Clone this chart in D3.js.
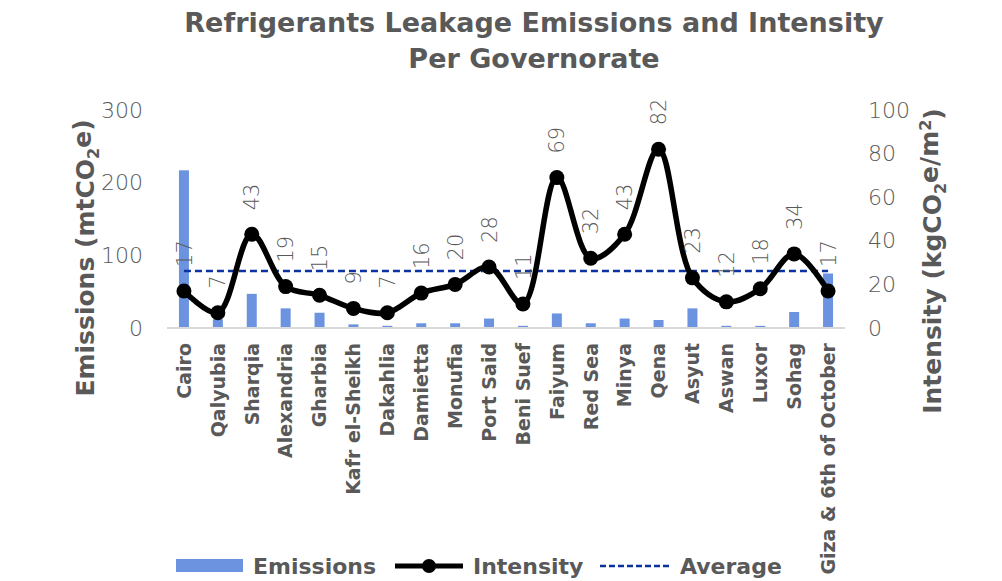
<!DOCTYPE html>
<html>
<head>
<meta charset="utf-8">
<script src="https://cdn.jsdelivr.net/npm/d3@7"></script>
<style>
  body { margin: 0; background: white; }
  text { font-family: "DejaVu Sans", sans-serif; }
  .light { font-family: "DejaVu Sans ExtraLight", "DejaVu Sans", sans-serif; font-weight: 200; }
</style>
</head>
<body>
<div id="chart"></div>
<script>
// data
var governorates = ["Cairo", "Qalyubia", "Sharqia", "Alexandria", "Gharbia", "Kafr el-Sheikh",
  "Dakahlia", "Damietta", "Monufia", "Port Said", "Beni Suef", "Faiyum", "Red Sea", "Minya",
  "Qena", "Asyut", "Aswan", "Luxor", "Sohag", "Giza & 6th of October"];
var emissions = [217, 12, 47, 27, 21, 5, 3, 6.5, 6.5, 13, 3, 20, 6.5, 13, 11, 27, 3, 3, 22, 75];
var intensity = [17, 7, 43, 19, 15, 9, 7, 16, 20, 28, 11, 69, 32, 43, 82, 23, 12, 18, 34, 17];
var average = 26.1;
var leftTicks = [0, 100, 200, 300];
var rightTicks = [0, 20, 40, 60, 80, 100];
var legendNames = ["Emissions", "Intensity", "Average"];

var width = 1002, height = 581;
var grey = "#595959";

var svg = d3.select("#chart")
  .append("svg")
    .attr("width", width)
    .attr("height", height)
    .style("background", "white");

// scales
var x = d3.scaleBand()
  .domain(governorates)
  .range([167, 845]);

var yLeft = d3.scaleLinear()
  .domain([0, 300])
  .range([328, 110]);

var yRight = d3.scaleLinear()
  .domain([0, 100])
  .range([328, 110]);

var cx = function(d) { return x(d) + x.bandwidth() / 2; };

// title
var title = svg.append("text")
  .attr("text-anchor", "middle")
  .attr("fill", grey)
  .style("font-weight", "bold")
  .style("font-size", "27px");
title.append("tspan").attr("x", 534).attr("y", 32).text("Refrigerants Leakage Emissions and Intensity");
title.append("tspan").attr("x", 534).attr("y", 68).text("Per Governorate");

// bars
svg.append("g")
  .selectAll("rect")
  .data(emissions)
  .enter()
  .append("rect")
    .attr("x", function(d, i) { return cx(governorates[i]) - 5; })
    .attr("width", 10)
    .attr("y", function(d) { return yLeft(d); })
    .attr("height", function(d) { return yLeft(0) - yLeft(d); })
    .attr("fill", "#6B93DF");

// category axis line
svg.append("line")
  .attr("x1", x.range()[0]).attr("x2", x.range()[1])
  .attr("y1", yLeft(0)).attr("y2", yLeft(0))
  .attr("stroke", "#D9D9D9")
  .attr("stroke-width", 2);

// left axis
var leftAxis = svg.append("g")
  .attr("transform", "translate(143,0)")
  .call(d3.axisLeft(yLeft).tickValues(leftTicks).tickSize(0).tickPadding(0));
leftAxis.select(".domain").remove();
leftAxis.selectAll("text")
  .attr("class", "light")
  .attr("fill", grey)
  .style("font-size", "22px");

// right axis
var rightAxis = svg.append("g")
  .attr("transform", "translate(868,0)")
  .call(d3.axisRight(yRight).tickValues(rightTicks).tickSize(0).tickPadding(0));
rightAxis.select(".domain").remove();
rightAxis.selectAll("text")
  .attr("class", "light")
  .attr("fill", grey)
  .style("font-size", "22px");

// category labels
svg.append("g")
  .selectAll("text")
  .data(governorates)
  .enter()
  .append("text")
    .attr("transform", function(d) { return "translate(" + cx(d) + ",343) rotate(-90)"; })
    .attr("text-anchor", "end")
    .attr("dy", "0.36em")
    .attr("fill", grey)
    .style("font-weight", "bold")
    .style("font-size", "19px")
    .text(function(d) { return d; });

// axis titles
var leftTitle = svg.append("text")
  .attr("transform", "translate(85,258) rotate(-90)")
  .attr("text-anchor", "middle")
  .attr("dy", "0.36em")
  .attr("fill", grey)
  .style("font-weight", "bold")
  .style("font-size", "25px");
leftTitle.append("tspan").text("Emissions (mtCO");
leftTitle.append("tspan").attr("dy", "0.3em").style("font-size", "16px").text("2");
leftTitle.append("tspan").attr("dy", "-0.3em").text("e)");

var rightTitle = svg.append("text")
  .attr("transform", "translate(932,261) rotate(-90)")
  .attr("text-anchor", "middle")
  .attr("dy", "0.36em")
  .attr("fill", grey)
  .style("font-weight", "bold")
  .style("font-size", "25px");
rightTitle.append("tspan").text("Intensity (kgCO");
rightTitle.append("tspan").attr("dy", "0.3em").style("font-size", "16px").text("2");
rightTitle.append("tspan").attr("dy", "-0.3em").text("e/m");
rightTitle.append("tspan").attr("dy", "-0.45em").style("font-size", "16px").text("2");
rightTitle.append("tspan").attr("dy", "0.45em").text(")");

// average line
svg.append("line")
  .attr("x1", cx(governorates[0]))
  .attr("x2", cx(governorates[governorates.length - 1]))
  .attr("y1", yRight(average))
  .attr("y2", yRight(average))
  .attr("stroke", "#0B33A0")
  .attr("stroke-width", 2.5)
  .attr("stroke-dasharray", "7,4");

// intensity line (smoothed like the original)
var line = d3.line()
  .x(function(d, i) { return cx(governorates[i]); })
  .y(function(d) { return yRight(d); })
  .curve(d3.curveCatmullRom.alpha(0.5));

svg.append("path")
  .datum(intensity)
  .attr("d", line)
  .attr("fill", "none")
  .attr("stroke", "black")
  .attr("stroke-width", 5.5)
  .attr("stroke-linejoin", "round");

svg.append("g")
  .selectAll("circle")
  .data(intensity)
  .enter()
  .append("circle")
    .attr("cx", function(d, i) { return cx(governorates[i]); })
    .attr("cy", function(d) { return yRight(d); })
    .attr("r", 7.5)
    .attr("fill", "black");

// data labels
svg.append("g")
  .selectAll("text")
  .data(intensity)
  .enter()
  .append("text")
    .attr("class", "light")
    .attr("transform", function(d, i) {
      return "translate(" + cx(governorates[i]) + "," + (yRight(d) - 24) + ") rotate(-90)";
    })
    .attr("text-anchor", "start")
    .attr("dy", "0.36em")
    .attr("fill", grey)
    .style("font-size", "21px")
    .text(function(d) { return d; });

// legend
var legend = svg.append("g");
legend.append("rect")
  .attr("x", 176).attr("y", 559)
  .attr("width", 67).attr("height", 13)
  .attr("fill", "#6B93DF");
legend.append("line")
  .attr("x1", 395).attr("x2", 463).attr("y1", 566).attr("y2", 566)
  .attr("stroke", "black").attr("stroke-width", 5);
legend.append("circle")
  .attr("cx", 429).attr("cy", 566).attr("r", 7).attr("fill", "black");
legend.append("line")
  .attr("x1", 600).attr("x2", 669).attr("y1", 566).attr("y2", 566)
  .attr("stroke", "#0B33A0").attr("stroke-width", 2.5)
  .attr("stroke-dasharray", "6,3");

var legendX = [253, 473, 680];
legend.selectAll("text")
  .data(legendNames)
  .enter()
  .append("text")
    .attr("x", function(d, i) { return legendX[i]; })
    .attr("y", 574)
    .attr("fill", grey)
    .style("font-weight", "bold")
    .style("font-size", "22px")
    .text(function(d) { return d; });
</script>
</body>
</html>
